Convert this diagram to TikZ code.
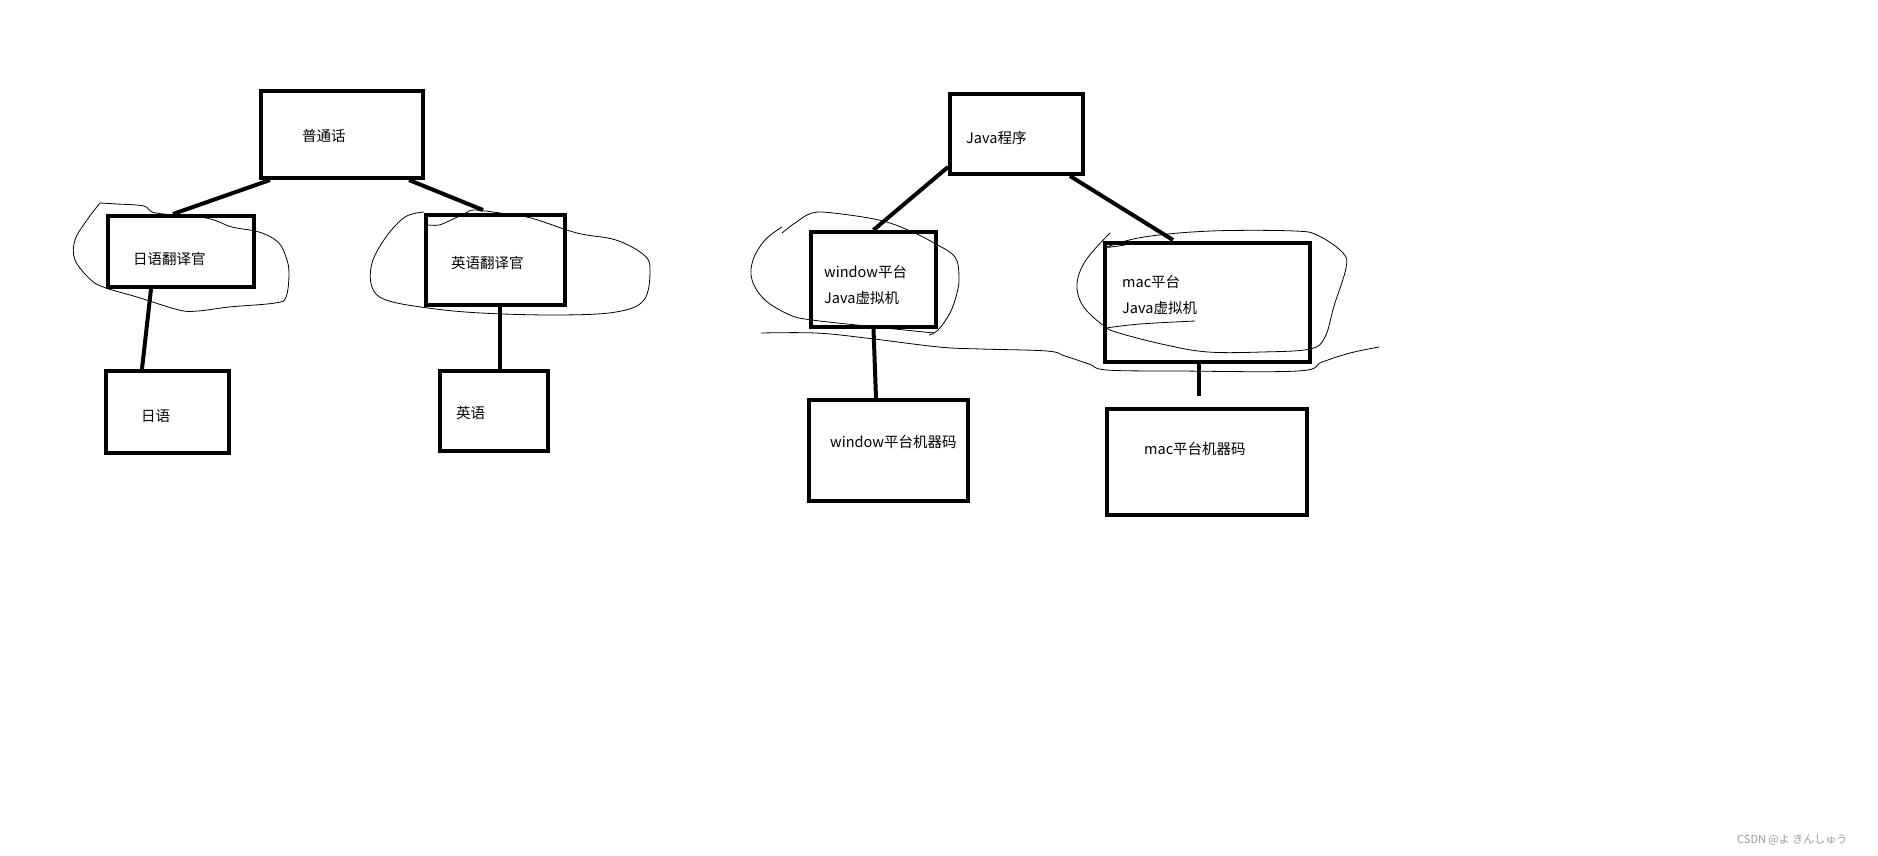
\documentclass[tikz,border=0pt]{standalone}
\usepackage{fontspec}
\setmainfont{Noto Sans CJK SC}
\definecolor{markgray}{HTML}{9A9A9A}
\usepackage{tikz}
\usetikzlibrary{positioning, calc}

\begin{document}
\begin{tikzpicture}[x=1pt, y=-1pt, box/.style={draw, line width=4pt, inner sep=0pt}, txt/.style={inner sep=0pt, anchor=west, font=\fontsize{14.5}{26}\selectfont, align=left}, link/.style={line width=4pt}, loop/.style={line width=0.8pt, smooth, tension=0.6}]
\useasboundingbox (0,0) rectangle (1878,855);
% boxes of the left tree
\node[box, minimum width=162pt, minimum height=87pt] (pth) at (342,134.5) {};
\node[box, minimum width=146pt, minimum height=71pt] (ryf) at (181,251.5) {};
\node[box, minimum width=139pt, minimum height=90pt] (yyf) at (495.5,260) {};
\node[box, minimum width=123pt, minimum height=82pt] (ry) at (167.5,412) {};
\node[box, minimum width=108pt, minimum height=80pt] (yy) at (494,411) {};
% boxes of the right tree
\node[box, minimum width=133pt, minimum height=80pt] (jv) at (1016.5,134) {};
\node[box, minimum width=125pt, minimum height=95pt] (wjvm) at (873.5,279.5) {};
\node[box, minimum width=205pt, minimum height=119pt] (mjvm) at (1207.5,302.5) {};
\node[box, minimum width=159pt, minimum height=101pt] (wmc) at (888.5,450.5) {};
\node[box, minimum width=200pt, minimum height=106pt] (mmc) at (1207,462) {};
% texts
\node[txt] (pthT) at (302,136) {普通话};
\node[txt] (ryfT) at (133,259) {日语翻译官};
\node[txt] (yyfT) at (451,263) {英语翻译官};
\node[txt] (ryT) at (141,416) {日语};
\node[txt] (yyT) at (456,413) {英语};
\node[txt] (jvT) at (966,138) {Java程序};
\node[txt] (wjvmT) at (824,285) {window平台\\Java虚拟机};
\node[txt] (mjvmT) at (1122,295) {mac平台\\Java虚拟机};
\node[txt] (wmcT) at (830,442) {window平台机器码};
\node[txt] (mmcT) at (1144,449) {mac平台机器码};
% connectors
\draw[link] ([xshift=11pt]pth.south west) -- ([xshift=67pt]ryf.north west);
\draw[link] ([xshift=-16pt]pth.south east) -- ([xshift=59pt,yshift=3pt]yyf.north west);
\draw[link] ([xshift=45pt]ryf.south west) -- ([xshift=38pt]ry.north west);
\draw[link] ([xshift=4.5pt,yshift=3pt]yyf.south) -- ([xshift=6pt]yy.north);
\draw[link] ([yshift=9pt]jv.south west) -- (wjvm.north);
\draw[link] ([xshift=-15pt]jv.south east) -- ([xshift=70pt,yshift=1pt]mjvm.north west);
\draw[link] (wjvm.south) -- ([xshift=-12.5pt]wmc.north);
\draw[link] ([xshift=-8.5pt]mjvm.south) -- ([xshift=-8pt,yshift=11pt]mmc.north);
% freehand rings
\draw[loop] plot coordinates {(100,203) (117,204) (144,206) (156,213) (206,218) (232,227) (259,232) (278,242) (286,257) (289,273) (286,297) (275,303) (229,307) (198,311) (179,310) (137,297) (106,288) (91,280) (75,260) (75,240) (87,220) (100,203)};
\draw[loop] plot coordinates {(428,225) (439,225) (451,220) (466,213) (474,210) (500,213) (531,218) (577,233) (616,240) (644,255) (650,270) (644,300) (616,312) (558,315) (481,313) (428,308) (386,300) (372,287) (372,263) (386,237) (405,217) (424,212)};
\draw[loop] plot coordinates {(782,233) (795,223) (812,213) (833,213) (879,220) (908,230) (934,243) (955,257) (959,277) (957,293) (950,313) (938,330) (929,335)};
\draw[loop] plot coordinates {(782,227) (765,240) (753,260) (752,280) (765,300) (790,315) (812,320) (866,326) (934,333)};
\draw[loop] plot coordinates {(1110,233) (1086,260) (1077,284) (1083,306) (1104,326) (1119,333) (1166,345) (1208,352) (1262,352) (1310,349) (1325,337) (1334,306) (1346,268) (1343,253) (1319,236) (1295,231) (1211,231) (1144,237) (1107,247) (1125,245)};
\draw[loop] plot coordinates {(1106,328) (1140,324) (1195,321)};
\draw[loop] plot coordinates {(761,333) (816,333) (866,338) (939,347) (981,349) (1047,351) (1065,356) (1089,364) (1107,370) (1178,371) (1298,371) (1322,362) (1350,353) (1379,347)};
% watermark
\node[inner sep=0pt, anchor=west, text=markgray, font=\fontsize{11}{13}\selectfont] (mark) at (1737,840) {CSDN @よ きんしゅう};
\end{tikzpicture}
\end{document}
